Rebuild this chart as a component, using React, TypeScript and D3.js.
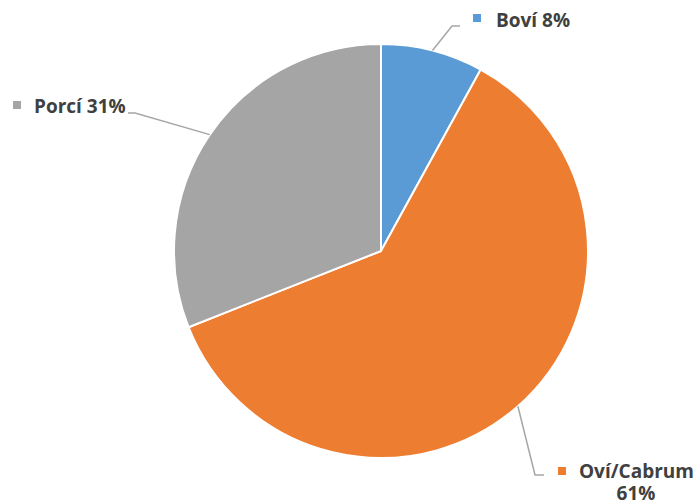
import React from "react";
import * as d3 from "d3";

const categories = ["Boví", "Oví/Cabrum", "Porcí"];
const values = [8, 61, 31];
const colors = ["#5B9BD5", "#ED7D31", "#A5A5A5"];

const W = 696, H = 504;
const cx = 381, cy = 251, R = 207;

const labelLayout = [
  { elbow: [452, 26], end: [460, 26], marker: [473, 14], text: [496, 27], lines: ["Boví 8%"] },
  { elbow: [535, 475], end: [544, 475], marker: [558, 467], text: [579, 478], lines: ["Oví/Cabrum", "61%"] },
  { elbow: [135, 113], end: [128, 113], marker: [13, 101], text: [34, 113], lines: ["Porcí 31%"] },
];

export default function App() {
  const pie = d3.pie<number>().sort(null).value((d) => d);
  const arcs = pie(values);
  const arcGen = d3.arc<d3.PieArcDatum<number>>().innerRadius(0).outerRadius(R);

  return (
    <svg width={W} height={H} style={{ position: "absolute", left: 0, top: 0, background: "#fff" }}>
      <g transform={`translate(${cx},${cy})`}>
        {arcs.map((a, i) => (
          <path key={i} d={arcGen(a) || ""} fill={colors[i]} stroke="#fff" strokeWidth={2} strokeLinejoin="round" />
        ))}
      </g>
      {arcs.map((a, i) => {
        const mid = (a.startAngle + a.endAngle) / 2;
        const sx = cx + R * Math.sin(mid);
        const sy = cy - R * Math.cos(mid);
        const L = labelLayout[i];
        return (
          <g key={"l" + i}>
            <polyline
              points={`${sx},${sy} ${L.elbow[0]},${L.elbow[1]} ${L.end[0]},${L.end[1]}`}
              fill="none"
              stroke="#A6A6A6"
              strokeWidth={1.5}
            />
            <rect x={L.marker[0]} y={L.marker[1]} width={8} height={8} fill={colors[i]} />
            {L.lines.map((t, j) => (
              <text
                key={j}
                x={j === 0 ? L.text[0] : L.text[0] + 57}
                y={L.text[1] + j * 22}
                textAnchor={j === 0 ? "start" : "middle"}
                fontFamily="'Open Sans', 'Liberation Sans', sans-serif"
                fontWeight="bold"
                fontSize={19}
                fill="#404040"
              >
                {t}
              </text>
            ))}
            <title>{categories[i]}</title>
          </g>
        );
      })}
    </svg>
  );
}
